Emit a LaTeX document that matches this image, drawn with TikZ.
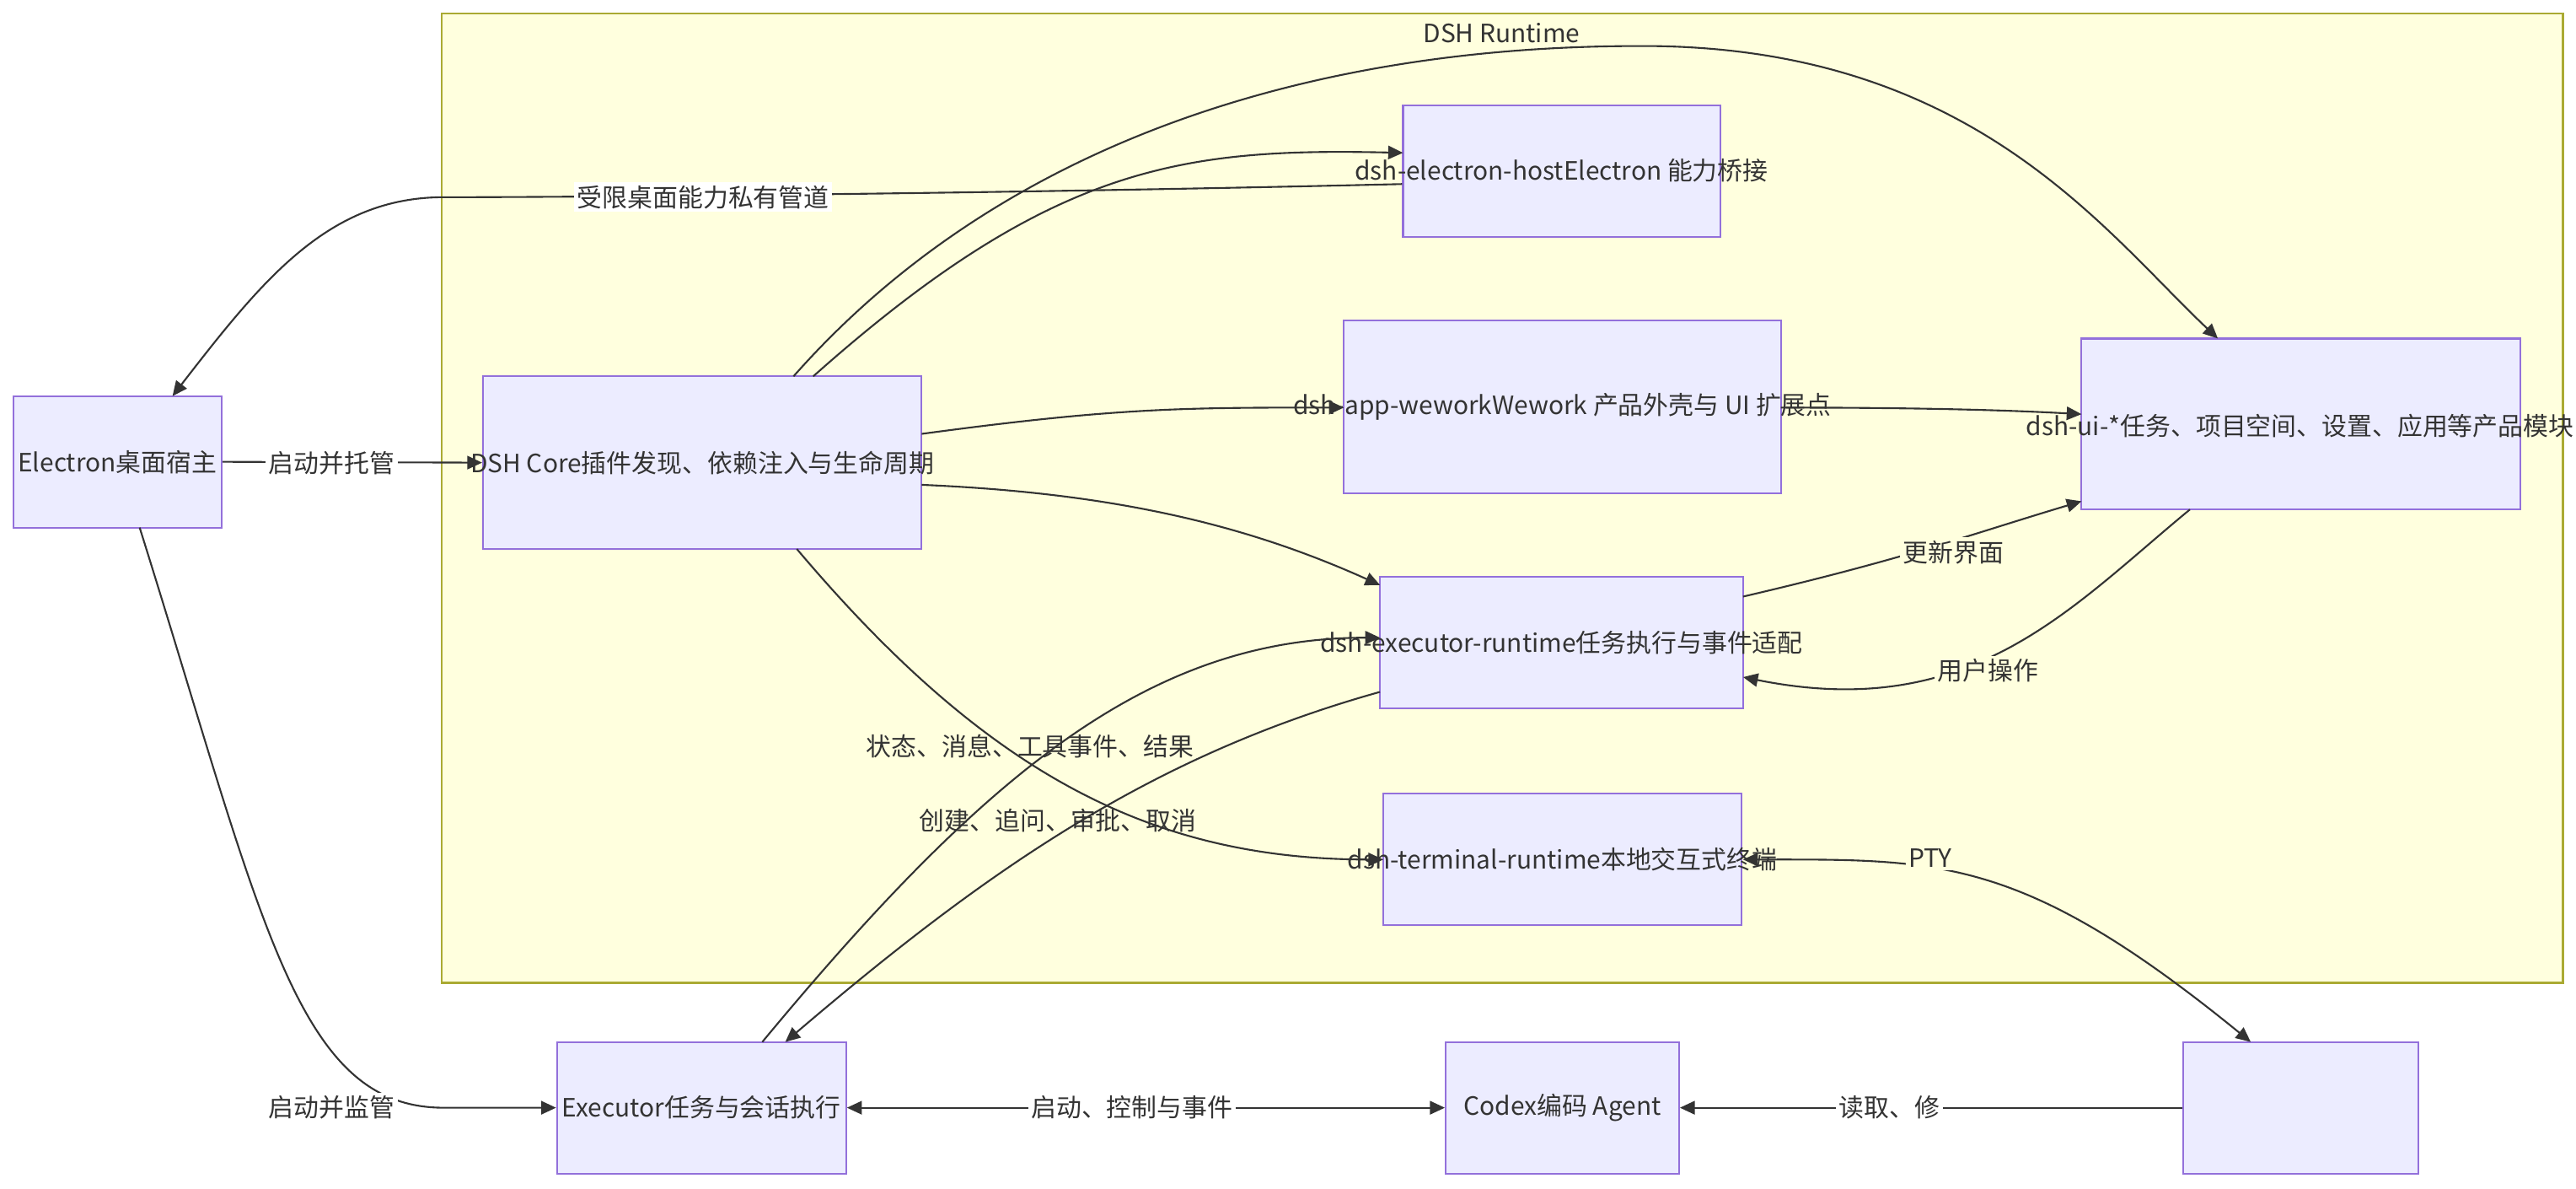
\documentclass[tikz,border=0pt]{standalone}
\usepackage{fontspec}
\setmainfont{Noto Sans CJK SC}
\usetikzlibrary{arrows.meta}
\definecolor{bxf}{HTML}{ECECFF}\definecolor{bxd}{HTML}{9370DB}
\definecolor{grf}{HTML}{FFFFDE}\definecolor{grd}{HTML}{AAAA33}
\definecolor{ln}{HTML}{333333}
\begin{document}
\begin{tikzpicture}[x=0.01949cm,y=-0.01949cm,
 box/.style={draw=bxd,fill=bxf,line width=0.6pt,inner sep=0},
 txt/.style={font=\fontsize{8.5}{10}\selectfont,text=ln,inner sep=1pt},
 lab/.style={font=\fontsize{8.5}{10}\selectfont,text=ln,inner sep=1pt,fill=white},
 ed/.style={draw=ln,line width=0.6pt,-{Triangle[length=5pt,width=4.5pt]}},
 bd/.style={draw=ln,line width=0.6pt,{Triangle[length=5pt,width=4.5pt]}-{Triangle[length=5pt,width=4.5pt]}}]
\useasboundingbox (0,0) rectangle (1568,723.4);
\begin{scope}
\clip (0,0) rectangle (1568,723.4);
\node[draw=grd,fill=grf,line width=0.6pt,minimum width=1291*0.01949cm,minimum height=590*0.01949cm,inner sep=0] (rt) at (914.5,303) {};
\node[txt] (rtt) at (914,20) {DSH Runtime};
\node[box,minimum width=127*0.01949cm,minimum height=80*0.01949cm] (el) at (71.5,281) {};
\node[txt] at (el) {Electron桌面宿主};
\node[box,minimum width=267*0.01949cm,minimum height=105*0.01949cm] (core) at (427.5,281.5) {};
\node[txt] at (core) {DSH Core插件发现、依赖注入与生命周期};
\node[box,minimum width=193*0.01949cm,minimum height=80*0.01949cm] (host) at (950.5,104) {};
\node[box,minimum width=266*0.01949cm,minimum height=105*0.01949cm] (app) at (951,247.5) {};
\node[box,minimum width=267*0.01949cm,minimum height=104*0.01949cm] (ui) at (1400.5,258) {};
\node[box,minimum width=221*0.01949cm,minimum height=80*0.01949cm] (exr) at (950.5,391) {};
\node[box,minimum width=218*0.01949cm,minimum height=80*0.01949cm] (term) at (951,523) {};
\node[box,minimum width=176*0.01949cm,minimum height=80*0.01949cm] (exe) at (427,674) {};
\node[box,minimum width=142*0.01949cm,minimum height=80*0.01949cm] (cdx) at (951,674) {};
\node[box,minimum width=143*0.01949cm,minimum height=80*0.01949cm] (pty) at (1400.5,674) {};
% edges
\path[ed] (el.east) -- (core.west);
\node[lab] at (202,282) {启动并托管};
\path[ed] (85,321) .. controls (160,560) and (180,674) .. (270,674) -- (exe.west);
\node[lab] at (202,674) {启动并监管};
\path[ed] (host.west|-0,112) .. controls (600,118) and (350,120) .. (270,120) .. controls (200,120) and (160,170) .. (105,241);
\node[lab] at (428,120) {受限桌面能力私有管道};
\path[ed] (495,229) .. controls (640,100) and (720,90) .. (854,93);
\path[ed] (483,229) .. controls (650,40) and (900,28) .. (1000,28) .. controls (1200,28) and (1280,140) .. (1350,206);
\path[ed] (561,264) .. controls (680,248) and (720,248) .. (818,248);
\path[ed] (1084,248) .. controls (1180,248) and (1230,250) .. (1267,252);
\path[ed] (561,295) .. controls (680,300) and (760,320) .. (840,356);
\path[ed] (485,334) .. controls (600,470) and (700,523) .. (842,523);
\path[ed] (464,634) .. controls (600,470) and (700,388) .. (840,388);
\path[ed] (840,421) .. controls (700,460) and (600,530) .. (478,634);
\node[txt] at (627,454) {状态、消息、工具事件、结果};
\node[txt] at (644,499) {创建、追问、审批、取消};
\path[ed] (1061,363) .. controls (1160,340) and (1200,325) .. (1267,305);
\node[lab,fill=grf] at (1189,336) {更新界面};
\path[ed] (1333,310) .. controls (1260,370) and (1200,440) .. (1061,412);
\node[lab,fill=grf] at (1210,408) {用户操作};
\path[bd] (1061,523) .. controls (1180,523) and (1230,520) .. (1370,634);
\node[lab,fill=grf] at (1175,522) {PTY};
\path[bd] (exe.east) -- (cdx.west);
\node[lab] at (689,674) {启动、控制与事件};
\path[ed] (pty.west) -- (cdx.east);
\node[lab] at (1150,674) {读取、修};
% node texts on top
\node[txt] at (host) {dsh-electron-hostElectron 能力桥接};
\node[txt] at (app) {dsh-app-weworkWework 产品外壳与 UI 扩展点};
\node[txt] at (1400,259) {dsh-ui-*任务、项目空间、设置、应用等产品模块};
\node[txt] at (exr) {dsh-executor-runtime任务执行与事件适配};
\node[txt] at (term) {dsh-terminal-runtime本地交互式终端};
\node[txt] at (exe) {Executor任务与会话执行};
\node[txt] at (cdx) {Codex编码 Agent};
\end{scope}
\end{tikzpicture}
\end{document}
